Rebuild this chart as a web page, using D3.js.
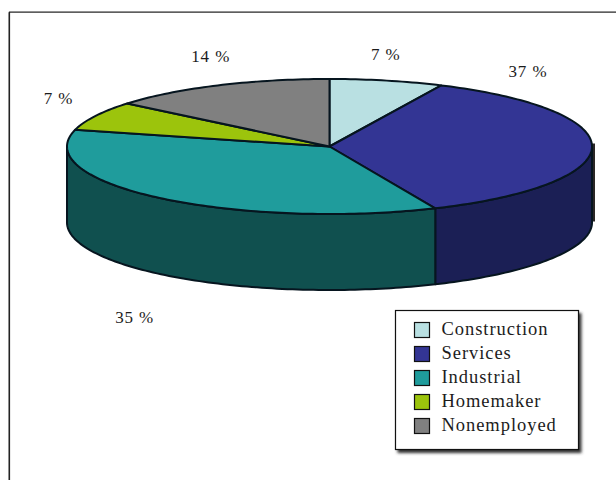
<!DOCTYPE html>
<html><head><meta charset="utf-8">
<script src="https://cdn.jsdelivr.net/npm/d3@7/dist/d3.min.js"></script>
<style>html,body{margin:0;padding:0;background:#fff}svg{display:block}text{font-family:"Liberation Serif",serif;fill:#1c1c1c}</style>
</head><body><svg id="c" width="616" height="480"></svg>
<script>
const categories = ["Construction","Services","Industrial","Homemaker","Nonemployed"];
const printedPercent = [7,37,35,7,14];
const sliceShares = [7,36.4,35.6,7,14];
const topColors = ["#b9e0e2","#333594","#1f9c9c","#9cc40c","#808080"];
const sideColors = ["#7fa0a2","#1b1f55","#10504f","#6a8508","#555555"];
const labelNudges = [[-1,-26],[-64,-75],[-25,120],[-37,-17],[-7,-28]];

const svg = d3.select("#c");
const defs = svg.append("defs");
const blur = defs.append("filter").attr("id","soft").attr("x","-10%").attr("y","-10%").attr("width","125%").attr("height","125%");
blur.append("feGaussianBlur").attr("stdDeviation",1.6);

// frame: runs off the right and bottom of the picture
svg.append("path").attr("d","M8.5,480V12.5H616").attr("fill","none").attr("stroke","#9a9a9a").attr("stroke-width",1);
svg.append("path").attr("d","M9.5,480V12H616").attr("fill","none").attr("stroke","#222").attr("stroke-width",1.2);

const x = d3.scaleLinear().domain([-1,1]).range([67,592]);
const y = d3.scaleLinear().domain([-1,1]).range([79,214]);
const drop = 76;
const pie = d3.pie().value(d=>d).sort(null)(sliceShares);
const line = d3.line().x(d=>d[0]).y(d=>d[1]);
const rim = (a0,a1,dy=0)=>{
  const n = Math.max(2,Math.ceil((a1-a0)/0.02));
  return d3.range(n+1).map(i=>{const a=a0+(a1-a0)*i/n;return [x(Math.sin(a)),y(-Math.cos(a))+dy];});
};

// dark sliver of shadow at the far right of the wall
svg.append("rect").attr("x",x(1)-3).attr("y",y(0)-3).attr("width",6).attr("height",drop+2).attr("fill","#2a2626");

// walls
const P=Math.PI;
pie.forEach((s,i)=>{
  const a0=Math.max(s.startAngle,P/2), a1=Math.min(s.endAngle,3*P/2);
  if(a1<=a0) return;
  const pts=[...rim(a0,a1),...rim(a0,a1,drop).reverse()];
  svg.append("path").attr("d",line(pts)+"Z").attr("fill",sideColors[i])
    .attr("stroke","#06151f").attr("stroke-width",2).attr("stroke-linejoin","round");
});
// top
pie.forEach((s,i)=>{
  const pts=[[x(0),y(0)],...rim(s.startAngle,s.endAngle)];
  svg.append("path").attr("d",line(pts)+"Z").attr("fill",topColors[i])
    .attr("stroke","#06151f").attr("stroke-width",2).attr("stroke-linejoin","round");
});
// value labels
pie.forEach((s,i)=>{
  const m=(s.startAngle+s.endAngle)/2;
  svg.append("text").attr("x",x(Math.sin(m))+labelNudges[i][0]).attr("y",y(-Math.cos(m))+labelNudges[i][1]+5)
    .attr("text-anchor","middle").attr("font-size",17).attr("letter-spacing",0.9).text(printedPercent[i]+" %");
});
// legend
const lg=svg.append("g").attr("transform","translate(395,310)");
lg.append("rect").attr("x",2.5).attr("y",3).attr("width",184).attr("height",140).attr("fill","#333").attr("filter","url(#soft)");
lg.append("rect").attr("x",0.5).attr("y",0.5).attr("width",183).attr("height",139).attr("fill","#fff").attr("stroke","#111").attr("stroke-width",1.2);
const row=d3.scaleBand().domain(categories).range([8,128]);
categories.forEach((c,i)=>{
  const cy=row(c)+row.bandwidth()/2;
  lg.append("rect").attr("x",19.5).attr("y",cy-7.5).attr("width",15).attr("height",15).attr("fill",topColors[i]).attr("stroke","#111").attr("stroke-width",1.2);
  lg.append("text").attr("x",46.5).attr("y",cy+5).attr("font-size",18.5).attr("letter-spacing",0.95).text(c);
});
</script></body></html>
